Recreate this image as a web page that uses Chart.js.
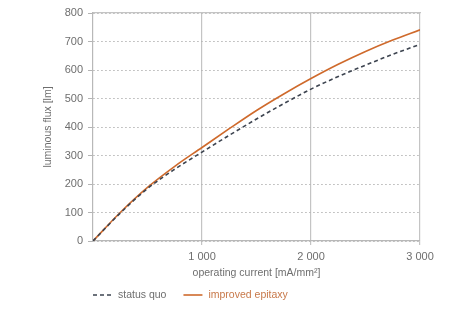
<!DOCTYPE html>
<html>
<head>
<meta charset="utf-8">
<script src="https://cdn.jsdelivr.net/npm/chart.js@4"></script>
<style>
  html, body { margin: 0; padding: 0; background: #fff; }
  #wrap { width: 474px; height: 310px; }
</style>
</head>
<body>
<div id="wrap"><canvas id="fluxChart"></canvas></div>
<script>
"use strict";

// operating current [mA/mm2]
const currents = [0, 250, 500, 750, 1000, 1250, 1500, 1750, 2000, 2250, 2500, 2750, 3000];
// luminous flux [lm]
const statusQuo = [0, 98, 184, 252, 312, 371, 428, 482, 533, 577, 617, 655, 690];
const improvedEpitaxy = [0, 100, 188, 262, 328, 394, 458, 516, 570, 620, 665, 705, 741];
const xTicks = [0, 1000, 2000, 3000];

const FONT = "'Liberation Sans', Arial, sans-serif";
const GREY = '#6e6e6e';
const ORANGE = '#cf6a2c';
const DARK = '#3d4450';

function points(ys) {
    return currents.map(function (c, i) { return { x: c, y: ys[i] }; });
}

// simple legend under the plot, left aligned with the y axis
const bottomLegend = {
    id: 'bottomLegend',
    afterDraw: function (chart) {
        const ctx = chart.ctx;
        const left = chart.chartArea.left;
        const y = 295;
        ctx.save();
        ctx.font = '10.5px ' + FONT;
        ctx.textBaseline = 'middle';
        let x = left;
        chart.data.datasets.forEach(function (ds) {
            ctx.strokeStyle = ds.borderColor;
            ctx.lineWidth = ds.borderWidth;
            ctx.setLineDash(ds.borderDash || []);
            ctx.beginPath();
            ctx.moveTo(x, y);
            ctx.lineTo(x + 19, y);
            ctx.stroke();
            ctx.setLineDash([]);
            ctx.fillStyle = ds.legendColor;
            ctx.fillText(ds.label, x + 25, y);
            x += 25 + ctx.measureText(ds.label).width + 17;
        });
        ctx.restore();
    }
};

new Chart(document.getElementById('fluxChart').getContext('2d'), {
    type: 'line',
    data: {
        datasets: [{
            label: 'status quo',
            data: points(statusQuo),
            borderColor: DARK,
            borderWidth: 1.6,
            borderDash: [4, 3],
            legendColor: GREY,
            pointRadius: 0,
            cubicInterpolationMode: 'monotone'
        }, {
            label: 'improved epitaxy',
            data: points(improvedEpitaxy),
            borderColor: ORANGE,
            borderWidth: 1.6,
            legendColor: '#c8794a',
            pointRadius: 0,
            cubicInterpolationMode: 'monotone'
        }]
    },
    options: {
        responsive: true,
        maintainAspectRatio: false,
        animation: false,
        layout: { padding: { left: 0, right: 54, top: 13, bottom: 28 } },
        plugins: {
            legend: { display: false },
            tooltip: { enabled: false }
        },
        scales: {
            x: {
                type: 'linear',
                min: 0,
                max: 3000,
                afterBuildTicks: function (scale) {
                    scale.ticks = xTicks.map(function (v) { return { value: v }; });
                },
                afterFit: function (scale) { scale.height = 41; },
                grid: {
                    color: function (c) { return c.tick && c.tick.value === 0 ? 'rgba(0,0,0,0)' : '#c4c4c4'; },
                    lineWidth: 1.2,
                    tickLength: 4
                },
                border: { color: '#b8b8b8', width: 1.2 },
                ticks: {
                    color: GREY,
                    font: { family: FONT, size: 11 },
                    padding: 5,
                    maxRotation: 0,
                    callback: function (v) { return v === 0 ? '' : (v / 1000) + ' 000'; }
                },
                title: {
                    display: true,
                    text: 'operating current [mA/mm²]',
                    color: GREY,
                    font: { family: FONT, size: 10.5 },
                    padding: { top: 0, bottom: 3 }
                }
            },
            xTop: {
                type: 'linear',
                position: 'top',
                min: 0,
                max: 3000,
                afterFit: function (scale) { scale.height = 0; },
                grid: { display: false },
                ticks: { display: false },
                border: { color: '#c4c4c4', width: 1.2 }
            },
            y: {
                min: 0,
                max: 800,
                afterFit: function (scale) { scale.width = 93; },
                grid: {
                    color: '#b4b4b4',
                    lineWidth: 1,
                    tickLength: 5
                },
                border: { color: '#b8b8b8', width: 1.2, dash: [1.5, 2.5] },
                ticks: {
                    stepSize: 100,
                    color: GREY,
                    font: { family: FONT, size: 11 },
                    padding: 5
                },
                title: {
                    display: true,
                    text: 'luminous flux [lm]',
                    color: GREY,
                    font: { family: FONT, size: 10.5 },
                    padding: { top: 42, bottom: 0 }
                }
            }
        }
    },
    plugins: [bottomLegend]
});
</script>
</body>
</html>
